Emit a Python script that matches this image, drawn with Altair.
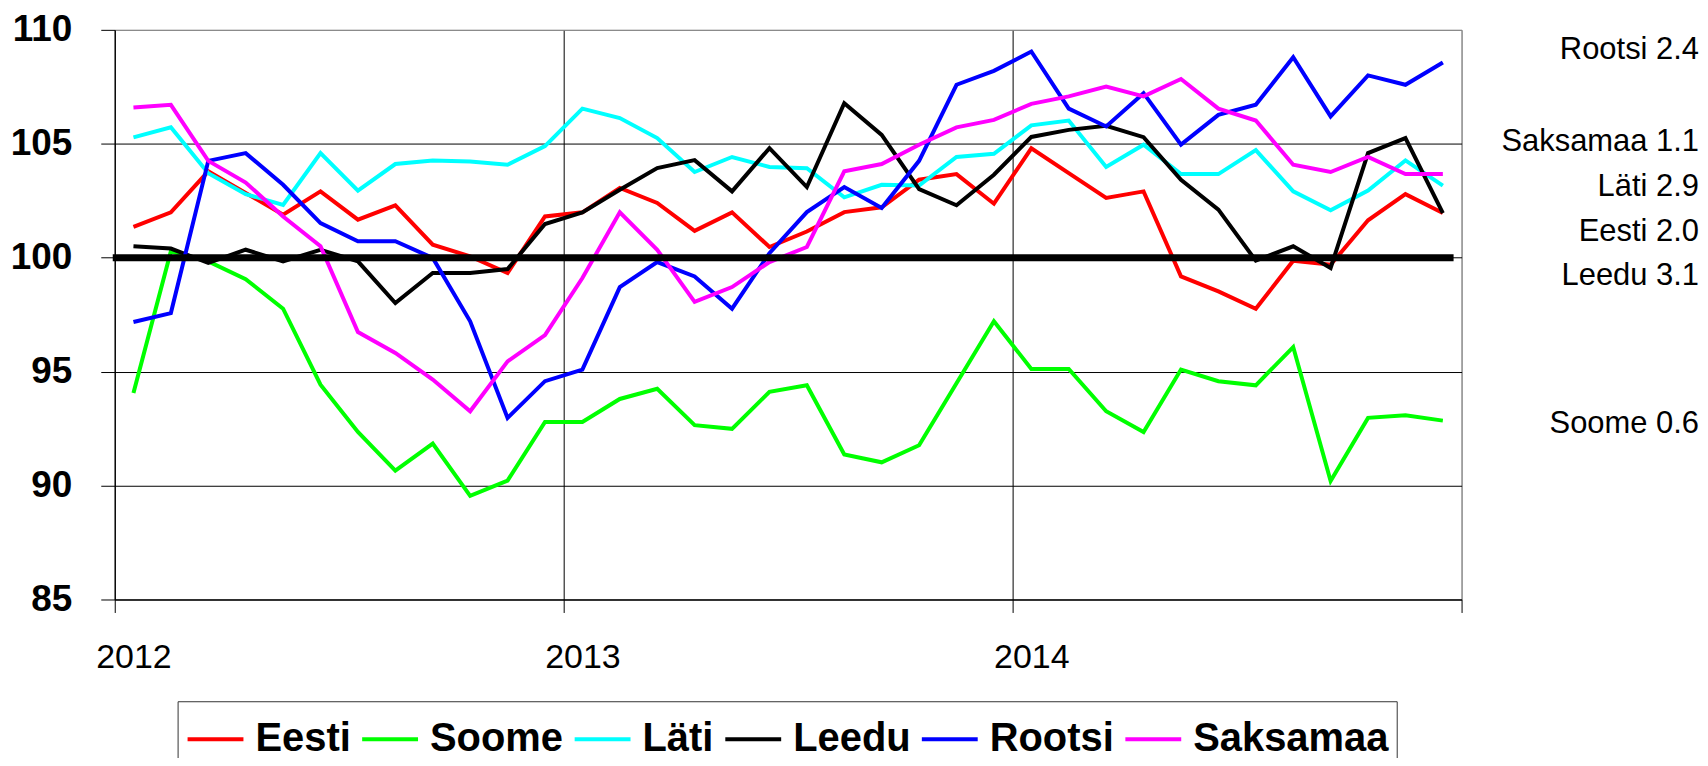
import altair as alt
import pandas as pd

countries = ["Eesti", "Soome", "Läti", "Leedu", "Rootsi", "Saksamaa"]
colors = ["#FF0000", "#00FF00", "#00FFFF", "#000000", "#0000FF", "#FF00FF"]

eesti = [101.35, 101.99, 103.79, 102.84, 101.89, 102.91, 101.67, 102.3, 100.57, 100.06, 99.33, 101.81,
         101.99, 103.06, 102.4, 101.18, 101.99, 100.47, 101.15, 102.0, 102.21, 103.42, 103.67, 102.37,
         104.8, 103.71, 102.62, 102.91, 99.18, 98.52, 97.76, 99.87, 99.69, 101.64, 102.79, 101.96]
soome = [94.06, 100.28, 99.84, 99.06, 97.76, 94.43, 92.35, 90.66, 91.84, 89.55, 90.22, 92.79,
         92.79, 93.8, 94.25, 92.65, 92.49, 94.11, 94.4, 91.36, 91.02, 91.77, 94.49, 97.21,
         95.12, 95.12, 93.26, 92.35, 95.09, 94.58, 94.4, 96.08, 90.2, 92.97, 93.08, 92.85]
lati = [105.28, 105.72, 103.71, 102.79, 102.32, 104.59, 102.94, 104.11, 104.27, 104.22, 104.08, 104.9,
        106.54, 106.13, 105.25, 103.76, 104.42, 103.98, 103.93, 102.65, 103.2, 103.17, 104.42, 104.56,
        105.81, 106.02, 103.98, 104.96, 103.67, 103.67, 104.72, 102.91, 102.08, 102.95, 104.27, 103.16]
leedu = [100.5, 100.4, 99.77, 100.35, 99.84, 100.35, 99.84, 98.01, 99.33, 99.33, 99.5, 101.48,
         101.99, 102.98, 103.93, 104.28, 102.91, 104.81, 103.1, 106.78, 105.39, 103.01, 102.3, 103.64,
         105.3, 105.61, 105.79, 105.29, 103.42, 102.11, 99.87, 100.5, 99.55, 104.59, 105.25, 101.96]
rootsi = [97.18, 97.57, 104.25, 104.59, 103.2, 101.52, 100.72, 100.72, 99.99, 97.21, 92.97, 94.58,
          95.09, 98.71, 99.81, 99.18, 97.76, 100.2, 102.0, 103.1, 102.18, 104.25, 107.59, 108.2,
          109.05, 106.54, 105.76, 107.22, 104.96, 106.27, 106.71, 108.8, 106.2, 108.0, 107.59, 108.57]
saksamaa = [106.59, 106.71, 104.25, 103.3, 101.81, 100.5, 96.74, 95.82, 94.65, 93.26, 95.45, 96.6,
            99.11, 101.99, 100.35, 98.06, 98.71, 99.81, 100.47, 103.79, 104.11, 104.96, 105.72, 106.05,
            106.75, 107.08, 107.51, 107.08, 107.84, 106.54, 106.02, 104.08, 103.76, 104.42, 103.67, 103.67]

series = [eesti, soome, lati, leedu, rootsi, saksamaa]

side_labels = ["Rootsi 2.4", "Saksamaa 1.1", "Läti 2.9", "Eesti 2.0", "Leedu 3.1", "Soome 0.6"]
side_anchor = [108.74, 104.68, 102.7, 100.74, 98.8, 92.3]

year_ticks = [0, 12, 24, 36]
y_ticks = [85, 90, 95, 100, 105, 110]

rows = []
for c, vals in zip(countries, series):
    for i, v in enumerate(vals):
        rows.append({"country": c, "t": i + 0.5, "value": v})
df = pd.DataFrame(rows)

FONT = "Liberation Sans, Arial, Helvetica, sans-serif"

x_enc = alt.X(
    "t:Q",
    scale=alt.Scale(domain=[0, 36], nice=False, zero=False),
    axis=alt.Axis(
        values=year_ticks,
        title=None,
        labelExpr="datum.value >= 36 ? '' : '' + (2012 + datum.value / 12)",
        labelOffset=18.75,
        labelFlush=False,
        labelOverlap=False,
        labelBound=False,
        labelFont=FONT,
        labelFontSize=34,
        labelColor="black",
        labelPadding=28,
        tickSize=13,
        tickColor="black",
        tickWidth=1,
        domainColor="black",
        domainWidth=1,
        grid=True,
        gridColor={"condition": {"test": "datum.value >= 36", "value": "#888888"}, "value": "black"},
        gridWidth=1,
    ),
)
y_enc = alt.Y(
    "value:Q",
    scale=alt.Scale(domain=[85, 110], nice=False, zero=False),
    axis=alt.Axis(
        values=y_ticks,
        title=None,
        labelFont=FONT,
        labelFontWeight="bold",
        labelFontSize=37,
        labelColor="black",
        labelPadding=29,
        tickSize=14,
        tickColor="black",
        tickWidth=1,
        domainColor="black",
        domainWidth=1,
        grid=True,
        gridColor={"condition": {"test": "datum.value >= 110", "value": "#888888"}, "value": "black"},
        gridWidth=1,
    ),
)

lines = alt.Chart(df).mark_line(strokeWidth=4, interpolate="linear").encode(
    x=x_enc,
    y=y_enc,
    color=alt.Color(
        "country:N",
        scale=alt.Scale(domain=countries, range=colors),
        sort=countries,
        legend=alt.Legend(
            title=None,
            orient="none",
            legendX=63,
            legendY=673,
            direction="horizontal",
            symbolType="stroke",
            symbolSize=3136,
            symbolStrokeWidth=4,
            labelFont=FONT,
            labelFontWeight="bold",
            labelFontSize=40,
            labelColor="black",
            labelOffset=10,
            columnPadding=3,
            padding=8,
            strokeColor="#333333",
            fillColor="white",
            labelLimit=400,
        ),
    ),
    order=alt.Order("t:Q"),
)

base_df = pd.DataFrame({"base": [100]})
baseline = alt.Chart(base_df).mark_rule(color="black", strokeWidth=7).encode(
    y="base:Q",
    x=alt.value(-2),
    x2=alt.value(1342),
)

lab_df = pd.DataFrame({"label": side_labels, "anchor": side_anchor})
side = alt.Chart(lab_df).mark_text(
    align="right", baseline="alphabetic", font=FONT, fontSize=31, color="black"
).encode(
    x=alt.value(1588),
    y="anchor:Q",
    text="label:N",
)

chart = alt.layer(lines, baseline, side).properties(
    width=1350,
    height=571,
    padding={"left": 107, "top": 21, "right": 239, "bottom": 158},
    autosize=alt.AutoSizeParams(type="none"),
    background="white",
).configure_view(stroke="#888888", strokeWidth=1)

chart.save("out.html", embed_options={"renderer": "svg", "actions": False})
